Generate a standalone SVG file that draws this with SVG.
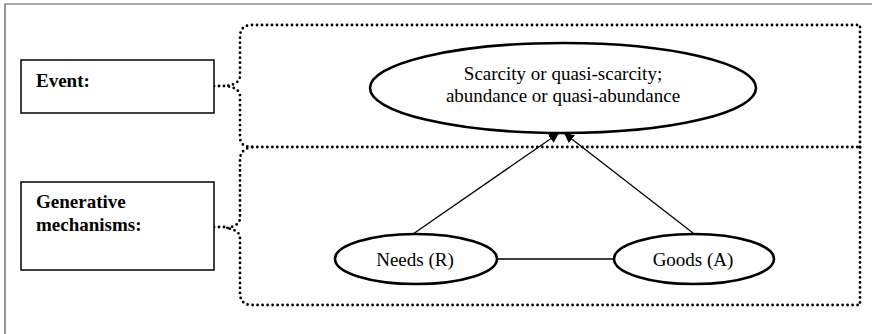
<svg xmlns="http://www.w3.org/2000/svg" width="872" height="334" viewBox="0 0 872 334">
<defs>
<style>
.frame{fill:none;stroke:#555;stroke-width:1.2}
.box{fill:#fff;stroke:#000;stroke-width:1.5}
.ell{fill:#fff;stroke:#000;stroke-width:2.6}
.dot{fill:none;stroke:#000;stroke-width:2.8;stroke-linecap:round;stroke-dasharray:0 5}
.ln{fill:none;stroke:#000;stroke-width:1.3}
.lbl{font-size:19px;font-weight:bold;fill:#000}
.txt{font-size:19px;fill:#000;text-anchor:middle}
</style>
<marker id="arr" viewBox="0 0 10 10" refX="10" refY="5" markerWidth="10" markerHeight="10" markerUnits="userSpaceOnUse" orient="auto">
<path d="M0,0 L10,5 L0,10 z" fill="#000"/>
</marker>
</defs>
<rect width="872" height="334" fill="#fff"/>
<path class="frame" d="M5,334 V4 H872"/>
<g id="brackets">
<path class="dot" d="M860,147 V25 H252 Q240,25 240,37 V76 Q240,84 226,86 Q240,88 240,96 V137 Q240,147 252,147 H860"/>
<path class="dot" d="M252,147 Q240,149 240,160 V218 Q240,226 226,228 Q240,230 240,238 V293 Q240,305 252,305 H860 V147"/>
</g>
<g id="connectors">
<path class="dot" d="M214,86 H226"/>
<path class="dot" d="M214,227 H226"/>
<line class="ln" x1="413" y1="234" x2="559" y2="133" marker-end="url(#arr)"/>
<line class="ln" x1="693" y1="233" x2="564" y2="133" marker-end="url(#arr)"/>
<line class="ln" x1="497" y1="259" x2="614" y2="259"/>
</g>
<g font-family="Liberation Serif, Times New Roman, serif">
<g id="event-label">
<rect class="box" x="21" y="60" width="193" height="53"/>
<text class="lbl" x="36" y="87">Event:</text>
</g>
<g id="generative-label">
<rect class="box" x="21" y="182" width="193" height="88"/>
<text class="lbl" x="36" y="208">Generative</text>
<text class="lbl" x="36" y="231">mechanisms:</text>
</g>
<g id="event">
<ellipse class="ell" cx="563" cy="88" rx="193" ry="45"/>
<text class="txt" x="563" y="80">Scarcity or quasi-scarcity;</text>
<text class="txt" x="563" y="102">abundance or quasi-abundance</text>
</g>
<g id="needs">
<ellipse class="ell" cx="416" cy="259" rx="81" ry="25"/>
<text class="txt" x="415" y="266">Needs (R)</text>
</g>
<g id="goods">
<ellipse class="ell" cx="694" cy="259" rx="80" ry="25"/>
<text class="txt" x="693" y="266">Goods (A)</text>
</g>
</g>
</svg>
